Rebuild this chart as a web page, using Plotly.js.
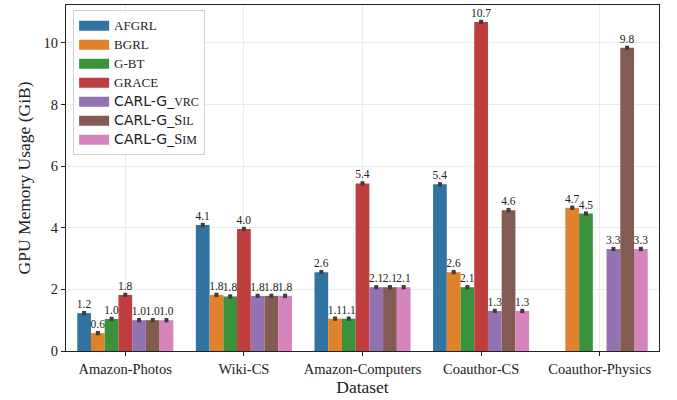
<!DOCTYPE html>
<html>
<head>
<meta charset="utf-8">
<script src="https://cdn.plot.ly/plotly-3.0.1.min.js"></script>
<style>body{margin:0;padding:0;background:#fff}#chart{width:677px;height:400px}</style>
</head>
<body>
<div id="chart"></div>
<script>
const categories = ["Amazon-Photos", "Wiki-CS", "Amazon-Computers", "Coauthor-CS", "Coauthor-Physics"];
const AFGRL = [1.23, 4.09, 2.56, 5.41, null];
const BGRL = [0.58, 1.82, 1.05, 2.56, 4.65];
const GBT = [1.04, 1.77, 1.05, 2.07, 4.46];
const GRACE = [1.82, 3.96, 5.44, 10.68, null];
const CARLG_VRC = [1.0, 1.79, 2.07, 1.30, 3.31];
const CARLG_SIL = [1.0, 1.79, 2.07, 4.57, 9.84];
const CARLG_SIM = [1.0, 1.79, 2.07, 1.30, 3.31];

const sans = "font-family:'DejaVu Sans';font-size:14px";
const big = "font-family:'Liberation Serif';font-size:14.5px";
const small = "font-family:'Liberation Serif';font-size:12px";
const plain = "font-family:'Liberation Serif';font-size:13px";
const names = [
  `<span style="${plain}">AFGRL</span>`,
  `<span style="${plain}">BGRL</span>`,
  `<span style="${plain}">G-BT</span>`,
  `<span style="${plain}">GRACE</span>`,
  `<span style="${sans}">CARL-G_</span><span style="${small}">VRC</span>`,
  `<span style="${sans}">CARL-G_</span><span style="${big}">S</span><span style="${small}">IL</span>`,
  `<span style="${sans}">CARL-G_</span><span style="${big}">S</span><span style="${small}">IM</span>`
];
const series = [AFGRL, BGRL, GBT, GRACE, CARLG_VRC, CARLG_SIL, CARLG_SIM];
const colors = ["#3274a1", "#e1812c", "#3a923a", "#c03d3e", "#9372b2", "#845b53", "#d684bd"];
const serif = "Liberation Serif, DejaVu Serif, serif";

const traces = series.map((vals, i) => ({
  type: "bar",
  x: categories,
  y: vals,
  name: names[i],
  showlegend: false,
  marker: {color: colors[i], line: {width: 0}},
  text: vals.map(v => v == null ? "" : v.toFixed(1)),
  textposition: "outside",
  textfont: {family: serif, size: 11.5, color: "#222"},
  constraintext: "none",
  cliponaxis: false,
  error_y: {type: "constant", value: 0.07, thickness: 4, width: 0, color: "#3d3d3d"}
}));

// legend-only entries (wide swatches like the reference)
series.forEach((vals, i) => {
  traces.push({
    type: "scatter", mode: "lines",
    x: [null], y: [null],
    name: names[i],
    line: {color: colors[i], width: 10},
    showlegend: true, hoverinfo: "skip"
  });
});

const layout = {
  width: 677, height: 400,
  margin: {l: 66, r: 18, t: 5, b: 49},
  paper_bgcolor: "#fff", plot_bgcolor: "#fff",
  barmode: "group", bargap: 0.19, bargroupgap: 0,
  font: {family: serif, size: 13, color: "#222"},
  xaxis: {
    title: {text: "Dataset", font: {family: serif, size: 17.5}, standoff: 4},
    range: [-0.5, 4.5],
    showgrid: true, gridcolor: "#ebebeb",
    showline: true, linecolor: "#222", linewidth: 1.2, mirror: true,
    ticks: "outside", ticklen: 4, tickcolor: "#222",
    tickfont: {family: serif, size: 14.5}
  },
  yaxis: {
    title: {text: "GPU Memory Usage (GiB)", font: {family: serif, size: 17.5}, standoff: 8},
    range: [0, 11.23],
    tickvals: [0, 2, 4, 6, 8, 10],
    showgrid: true, gridcolor: "#ebebeb",
    showline: true, linecolor: "#222", linewidth: 1.2, mirror: true,
    ticks: "outside", ticklen: 4, tickcolor: "#222",
    zeroline: false,
    tickfont: {family: serif, size: 14.5}
  },
  legend: {
    x: 0.012, y: 0.985, xanchor: "left", yanchor: "top",
    bgcolor: "rgba(255,255,255,0.9)", bordercolor: "#d0d0d0", borderwidth: 1,
    font: {family: serif, size: 12}, tracegroupgap: 0, itemwidth: 30
  },
  showlegend: true
};

Plotly.newPlot("chart", traces, layout, {displayModeBar: false, staticPlot: true});
</script>
</body>
</html>
